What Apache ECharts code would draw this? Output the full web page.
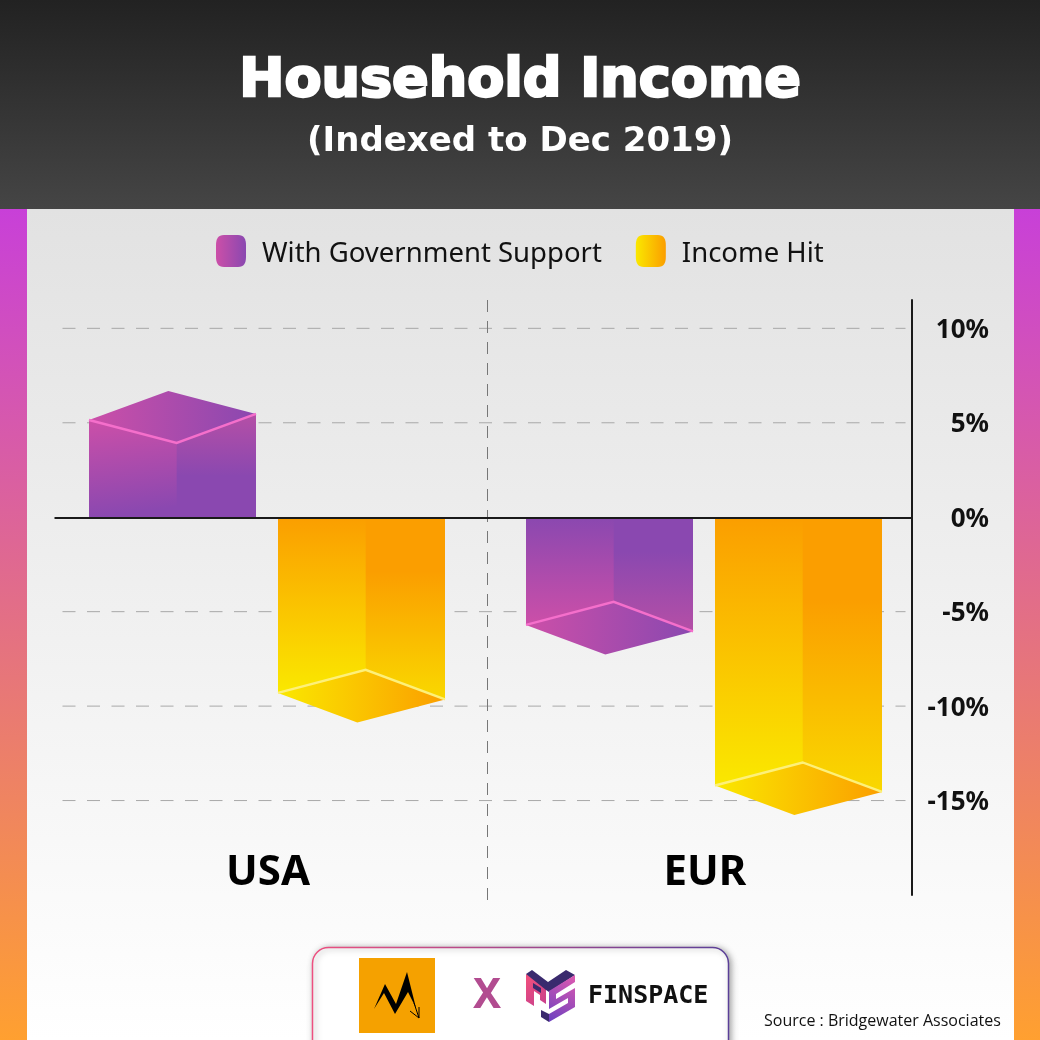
<!DOCTYPE html>
<html><head><meta charset="utf-8">
<style>html,body{margin:0;padding:0;background:#fff}#c{width:1040px;height:1040px}</style>
<script src="https://cdn.jsdelivr.net/npm/echarts@6/dist/echarts.min.js"></script>
</head><body><div id="c"></div>
<script>
const categories = ['USA', 'EUR'];
const withSupport = [5.15, -5.7];
const incomeHit = [-9.3, -14.2];
const gridTicks = [10, 5, -5, -10, -15];

const lin = (x, y, x2, y2, a, b, mid, midAt) => ({type:'linear',x,y,x2,y2,colorStops: mid ?
  [{offset:0,color:a},{offset:midAt,color:mid},{offset:1,color:b}] : [{offset:0,color:a},{offset:1,color:b}]});
const glob = (x, y, x2, y2, a, b) => ({type:'linear',x,y,x2,y2,global:true,colorStops:[{offset:0,color:a},{offset:1,color:b}]});
const PAL = {
  p: {hi:'#cc4fa8', lo:'#8a48b0', side:'#b54fa6', edge:'#f56fcb'},
  y: {hi:'#fae800', lo:'#fb9e00', side:'#f9d800', edge:'#fdf07a'}
};
function cube(palKey, from, to) {
  const pal = PAL[palKey];
  return function (params, api) {
    const x = api.value(0), v = api.value(1);
    const c = api.coord([x, v]), z = api.coord([x, 0]);
    const L = c[0] + from, R = c[0] + to, w = to - from;
    const top = c[1], base = z[1];
    const up = v >= 0;
    const mx = L + w * 0.525, bx = L + w * 0.475;
    const rY = up ? top - 6 : top + 6.5;
    const inner = up ? top + 23 : top - 23;
    const far = up ? top - 29 : top + 29.5;
    const face = (pts, fill) => ({type:'polygon', shape:{points:pts}, style:{fill}});
    const edge = pts => ({type:'polyline', shape:{points:pts}, style:{stroke:pal.edge, lineWidth:2.5, fill:null}});
    const leftFill = up ? lin(0,0,0.15,1,pal.hi,pal.lo) : lin(0,0,0,1,pal.lo,pal.hi);
    const rightFill = up ? lin(0,0,0,1,pal.side,pal.lo,pal.lo,0.6) : lin(0,0,0,1,pal.lo,pal.side,pal.lo,0.3);
    return {type:'group', children:[
      face([[L,base],[mx+1,base],[mx+1,inner],[L,top]], leftFill),
      face([[mx,base],[R,base],[R,rY],[mx,inner]], rightFill),
      face([[L,top],[mx,inner],[R,rY],[bx,far]], lin(0,0,1,0,pal.hi,pal.lo)),
      edge([[L,top],[mx,inner],[R,rY]])
    ]};
  };
}
function guides(params, api) {
  const v = api.value(1);
  const cs = params.coordSys;
  const y = api.coord([0, v])[1];
  const xL = cs.x + 13, xR = cs.x + cs.width - 18;
  if (v === 0) {
    return {type:'line', shape:{x1:cs.x+5,y1:y+0.8,x2:cs.x+cs.width-11,y2:y+0.8}, style:{stroke:'#1a1a1a',lineWidth:2}, z2:10};
  }
  return {type:'line', shape:{x1:xL,y1:y,x2:xR,y2:y}, style:{stroke:'#a8a8a8',lineWidth:1,lineDash:[13,11.5]}};
}
function divider(params, api) {
  const a = api.coord([0, 0])[0], b = api.coord([1, 0])[0];
  const cs = params.coordSys;
  const x = Math.round((a + b) / 2) + 0.5;
  return {type:'line', shape:{x1:x,y1:cs.y,x2:x,y2:cs.y+cs.height+5}, style:{stroke:'#777',lineWidth:1,lineDash:[12,9]}};
}
const chart = echarts.init(document.getElementById('c'), null, {renderer:'canvas'});
const sq = 'path://M8 0H22C28 0 30 4 30 10V22C30 28 28 32 22 32H8C2 32 0 28 0 22V10C0 4 2 0 8 0Z';
const deco = (type, shape, style) => ({type, z:-5, silent:true, shape, style});
chart.setOption({
  animation:false,
  backgroundColor:'#fff',
  textStyle:{fontFamily:'Noto Sans'},
  title:[
    {text:'Household Income', left:'center', top:55, padding:0, textStyle:{color:'#fff',fontFamily:'DejaVu Sans',fontWeight:'bold',fontSize:54,textBorderColor:'#fff',textBorderWidth:2.5}},
    {text:'(Indexed to Dec 2019)', left:'center', top:125, padding:0, textStyle:{color:'#fff',fontFamily:'DejaVu Sans',fontWeight:'bold',fontSize:34}}
  ],
  legend:{
    left:216, top:235, padding:0, itemWidth:30, itemHeight:32, itemGap:34, icon:sq, selectedMode:false,
    formatter:'{t|{name}}',
    textStyle:{fontFamily:'Noto Sans',fontSize:27.5,color:'#111',padding:[0,0,0,11],
      rich:{t:{fontFamily:'Noto Sans',fontSize:27.5,color:'#111',padding:[6,0,0,0],verticalAlign:'bottom'}}},
    data:[
      {name:'With Government Support', itemStyle:{color:lin(0,0,1,0,'#cc4fa8','#8a48b0')}},
      {name:'Income Hit', itemStyle:{color:lin(0,0,1,0,'#fae800','#fb9e00')}}
    ]
  },
  grid:{left:49.5, right:116.5, top:300, bottom:145, containLabel:false},
  xAxis:{type:'category', data:categories, position:'bottom',
    axisLine:{show:false}, axisTick:{show:false}, splitLine:{show:false},
    axisLabel:{inside:true, margin:1, fontSize:42, fontWeight:'bold', color:'#000', fontFamily:'Noto Sans'}},
  yAxis:{type:'value', min:-20, max:11.5, interval:5, position:'right', offset:-11.5,
    axisLine:{show:true, onZero:false, lineStyle:{color:'#1a1a1a',width:2}}, axisTick:{show:false}, splitLine:{show:false},
    axisLabel:{showMinLabel:false, showMaxLabel:false, align:'right', margin:77, fontSize:26, fontWeight:'bold', color:'#111', fontFamily:'Noto Sans',
      formatter:'{t|{value}%}',
      rich:{t:{fontFamily:'Noto Sans',fontWeight:'bold',fontSize:26,color:'#111',padding:[4,0,0,0],verticalAlign:'bottom'}}}},
  series:[
    {name:'guides', type:'custom', silent:true, clip:false, z:1, renderItem:guides, data:gridTicks.map(v=>[0,v]), encode:{x:0,y:1}},
    {name:'divider', type:'custom', silent:true, clip:false, z:1, renderItem:divider, data:[[0,0]], encode:{x:0,y:1}},
    {name:'With Government Support', type:'custom', clip:false, z:3, renderItem:cube('p',-179,-12), data:withSupport.map((v,i)=>[i,v]), encode:{x:0,y:1}, itemStyle:{color:'#a04cac'}},
    {name:'Income Hit', type:'custom', clip:false, z:3, renderItem:cube('y',10,177), data:incomeHit.map((v,i)=>[i,v]), encode:{x:0,y:1}, itemStyle:{color:'#fbc400'}},
    {name:'zero', type:'custom', silent:true, clip:false, z:5, renderItem:guides, data:[[0,0]], encode:{x:0,y:1}}
  ],
  graphic:[
    {type:'rect', z:-10, silent:true, shape:{x:0,y:209,width:1040,height:831}, style:{fill:lin(0,0,0,1,'#c840d8','#ffa030')}},
    {type:'rect', z:-9, silent:true, shape:{x:27,y:209,width:987,height:831}, style:{fill:lin(0,0,0,1,'#e2e2e2','#ffffff')}},
    {type:'rect', z:-8, silent:true, shape:{x:0,y:0,width:1040,height:209}, style:{fill:lin(0,0,0,1,'#222222','#454545')}},
    {type:'rect', z:-7, silent:true, shape:{x:312.5,y:947.5,width:416,height:120,r:16}, style:{fill:'#fff',stroke:lin(0,0,1,0,'#ee5080','#5a3f98'),lineWidth:1.5,shadowBlur:6,shadowColor:'rgba(0,0,0,0.35)',shadowOffsetX:2,shadowOffsetY:1}},
    {type:'rect', z:-6, silent:true, shape:{x:359,y:958,width:76,height:75}, style:{fill:'#f5a100'}},
    deco('polygon',{points:[[374,1009],[385,984],[396,1004],[407,972],[416,1008],[408,992],[395,1014],[384,993]]},{fill:'#000'}),
    deco('polyline',{points:[[414,1003],[419,1018]]},{stroke:'#000',lineWidth:1,fill:null}),
    deco('polyline',{points:[[410,1011],[419,1018],[419,1007]]},{stroke:'#000',lineWidth:1,fill:null}),
    {type:'text', z:-5, silent:true, style:{x:487,y:996,text:'X',align:'center',verticalAlign:'middle',font:'bold 42px "Noto Sans"',fill:'#b24c90'}},
    deco('polygon',{points:[[526,974],[546,987],[546,1004],[540,1000],[540,995],[534,991],[534,1006],[526,1001]]},{fill:glob(526,975,546,1005,'#f2507c','#c8408c')}),
    deco('polygon',{points:[[526,974],[532,970],[548,982],[566,970],[575,975],[549,992],[546,990]]},{fill:'#3a2a6e'}),
    deco('polygon',{points:[[533,983],[541,988],[541,993],[533,988]]},{fill:'#3a2a6e'}),
    deco('polygon',{points:[[549,991],[575,975],[575,982],[556,994],[556,999],[575,988],[575,1007],[549,1022],[549,1014],[568,1003],[568,998],[549,1009]]},{fill:glob(575,975,549,1022,'#e05ab0','#6a40c0')}),
    deco('polygon',{points:[[549,1022],[541,1017],[541,1010],[549,1014]]},{fill:'#3a2a6e'}),
    {type:'text', z:-5, silent:true, style:{x:588,y:996,text:'FINSPACE',align:'left',verticalAlign:'middle',font:'bold 25px "DejaVu Sans Mono"',fill:'#111'}},
    {type:'text', z:-5, silent:true, style:{x:764,y:1021,text:'Source : Bridgewater Associates',align:'left',verticalAlign:'middle',font:'16px "Open Sans"',fill:'#111'}}
  ]
});
</script></body></html>
